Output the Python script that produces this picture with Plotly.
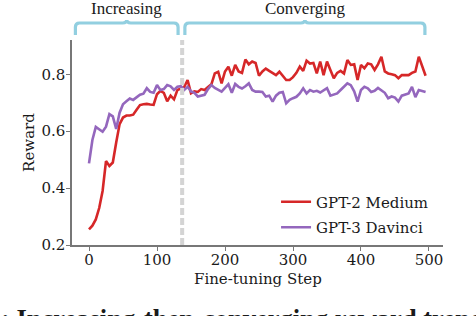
import plotly.graph_objects as go

steps = list(range(0, 500, 5))

gpt2_medium = [
    0.255, 0.268, 0.290, 0.330, 0.390, 0.495, 0.478, 0.490, 0.560, 0.625,
    0.648, 0.655, 0.655, 0.658, 0.675, 0.692, 0.695, 0.696, 0.694, 0.693,
    0.730, 0.742, 0.735, 0.705, 0.725, 0.712, 0.745, 0.750, 0.755, 0.780,
    0.733, 0.740, 0.738, 0.748, 0.745, 0.755, 0.765, 0.803, 0.809, 0.768,
    0.810, 0.827, 0.795, 0.833, 0.810, 0.805, 0.852, 0.835, 0.845, 0.840,
    0.795, 0.810, 0.820, 0.812, 0.803, 0.797, 0.809, 0.795, 0.780, 0.780,
    0.790, 0.805, 0.827, 0.812, 0.848, 0.838, 0.840, 0.803, 0.845, 0.797,
    0.845, 0.815, 0.786, 0.805, 0.812, 0.803, 0.850, 0.833, 0.835, 0.780,
    0.833, 0.821, 0.838, 0.835, 0.815, 0.835, 0.862, 0.810, 0.803, 0.800,
    0.797, 0.786, 0.797, 0.797, 0.797, 0.805, 0.810, 0.862, 0.830, 0.795,
]

gpt3_davinci = [
    0.487, 0.569, 0.615, 0.605, 0.598, 0.616, 0.660, 0.652, 0.608, 0.665,
    0.695, 0.705, 0.715, 0.710, 0.718, 0.728, 0.732, 0.751, 0.738, 0.735,
    0.762, 0.745, 0.748, 0.762, 0.758, 0.745, 0.756, 0.758, 0.745, 0.756,
    0.740, 0.735, 0.722, 0.725, 0.728, 0.748, 0.762, 0.752, 0.745, 0.739,
    0.752, 0.765, 0.735, 0.766, 0.756, 0.750, 0.758, 0.768, 0.745, 0.739,
    0.739, 0.738, 0.722, 0.725, 0.704, 0.725, 0.735, 0.738, 0.698, 0.710,
    0.716, 0.721, 0.733, 0.751, 0.733, 0.745, 0.739, 0.742, 0.736, 0.745,
    0.751, 0.725, 0.730, 0.733, 0.745, 0.758, 0.768, 0.762, 0.740, 0.704,
    0.745, 0.756, 0.751, 0.738, 0.742, 0.752, 0.745, 0.735, 0.716, 0.722,
    0.718, 0.704, 0.725, 0.728, 0.733, 0.756, 0.720, 0.745, 0.742, 0.738,
]

series_names = ["GPT-2 Medium", "GPT-3 Davinci"]
x_ticks = [0, 100, 200, 300, 400, 500]
y_ticks = [0.2, 0.4, 0.6, 0.8]
phase_boundary = 137
phase_labels = ["Increasing", "Converging"]
phase_spans = [(-20, 131), (141, 494)]
caption = ": Increasing-then-converging reward trend"

RED = "#d62728"
PURPLE = "#9467bd"
BRACE = "#92cfe0"
SERIF = "DejaVu Serif"
TXT = "#1a1a1a"

fig = go.Figure()
fig.add_trace(go.Scatter(x=steps, y=gpt2_medium, mode="lines", name=series_names[0],
                         line=dict(color=RED, width=2.6), legendgroup="a"))
fig.add_trace(go.Scatter(x=steps, y=gpt3_davinci, mode="lines", name=series_names[1],
                         line=dict(color=PURPLE, width=2.6), legendgroup="b"))

# dashed phase boundary
fig.add_shape(type="line", xref="x", yref="paper", x0=phase_boundary, x1=phase_boundary,
              y0=0, y1=1, line=dict(color="#d4d4d4", width=4, dash="7px,3px"), layer="above")

# braces
y_end, y_bar, y_tip = 1.024, 1.083, 1.097
rx, ry = 6.0, 0.02
for (a, b), lab in zip(phase_spans, phase_labels):
    m = (a + b) / 2
    path = (f"M {a},{y_end} L {a},{y_bar - ry} Q {a},{y_bar} {a + rx},{y_bar} "
            f"L {m - rx},{y_bar} Q {m},{y_bar} {m},{y_tip} Q {m},{y_bar} {m + rx},{y_bar} "
            f"L {b - rx},{y_bar} Q {b},{y_bar} {b},{y_bar - ry} L {b},{y_end}")
    fig.add_shape(type="path", xref="x", yref="paper", path=path,
                  line=dict(color=BRACE, width=3.2))
    fig.add_annotation(x=m, y=1.155, xref="x", yref="paper", text=lab, showarrow=False,
                       yanchor="middle", font=dict(family="Liberation Serif", size=17, color=TXT))

# x-axis title as annotation, to sit close under the tick labels
fig.add_annotation(x=0.5, y=-0.112, xref="paper", yref="paper", text="Fine-tuning Step",
                   showarrow=False, xanchor="center", yanchor="top",
                   font=dict(family=SERIF, size=15, color=TXT))

fig.add_annotation(x=-0.198, y=-0.28, xref="paper", yref="paper", text="<b>" + caption + "</b>",
                   showarrow=False, xanchor="left", yanchor="top",
                   font=dict(family="Liberation Serif", size=26.5, color=TXT))

axis_common = dict(showline=True, linecolor="#777", linewidth=1.5, ticks="outside",
                   ticklen=4, tickcolor="#777", showgrid=False, zeroline=False,
                   automargin=True,
                   tickfont=dict(family=SERIF, size=15, color=TXT))
fig.update_xaxes(range=[-25, 520.6], tickvals=x_ticks, ticklabelstandoff=-4, **axis_common)
fig.update_yaxes(range=[0.2, 0.9206], tickvals=y_ticks, tickformat=".1f",
                 ticklabelstandoff=-2, **axis_common,
                 title=dict(text="Reward", font=dict(family=SERIF, size=15, color=TXT),
                            standoff=3))

fig.update_layout(
    width=476, height=316, autosize=False,
    margin=dict(l=72, r=33, t=40, b=71),
    plot_bgcolor="white", paper_bgcolor="white",
    legend=dict(x=0.55, y=0.29, xanchor="left", yanchor="top", bgcolor="rgba(0,0,0,0)",
                font=dict(family=SERIF, size=15, color=TXT), itemwidth=30, tracegroupgap=3),
)

fig.write_html("out.html", config={"displayModeBar": False},
               post_script="document.body.style.margin='0';document.body.style.overflow='hidden';")
